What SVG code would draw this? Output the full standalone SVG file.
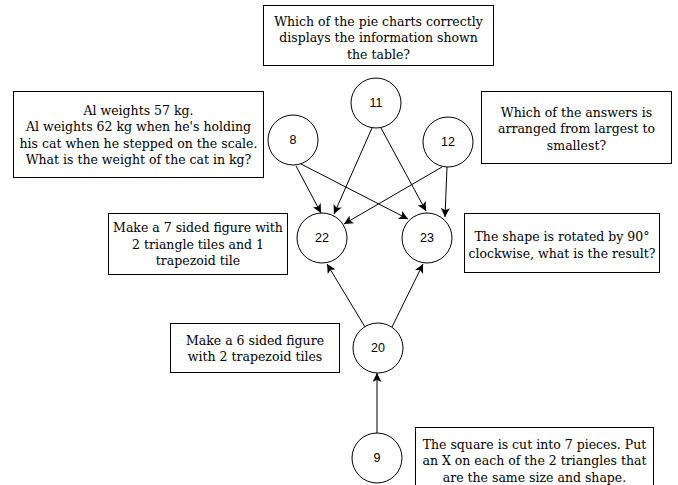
<svg xmlns="http://www.w3.org/2000/svg" width="678" height="485" viewBox="0 0 678 485">
  <style>
    .box { fill: #ffffff; stroke: #000000; stroke-width: 1; }
    .node { fill: #ffffff; stroke: #000000; stroke-width: 1; }
    .qt { font-family: "DejaVu Serif", "Liberation Serif", serif; font-size: 12.5px; fill: #000000; text-anchor: middle; }
    .num { font-family: "Liberation Sans", Arial, sans-serif; font-size: 12.5px; fill: #000000; text-anchor: middle; dominant-baseline: central; }
    .edge { fill: none; stroke: #000000; stroke-width: 1; marker-end: url(#arrow); }
  </style>
  <defs>
    <marker id="arrow" viewBox="0 0 10 10" refX="10" refY="5" markerWidth="9" markerHeight="9" markerUnits="userSpaceOnUse" orient="auto">
      <path d="M0,0 L10,5 L0,10 L2.5,5 Z" fill="#000000"/>
    </marker>
  </defs>
  <rect width="678" height="485" fill="#ffffff"/>

  <!-- question boxes -->
  <g id="q11">
    <rect class="box" x="263.5" y="5.5" width="230" height="60"/>
    <text class="qt" x="378.5" y="25.5">Which of the pie charts correctly</text>
    <text class="qt" x="378.5" y="42">displays the information shown</text>
    <text class="qt" x="378.5" y="58.5">the table?</text>
  </g>
  <g id="q8">
    <rect class="box" x="13.5" y="91.5" width="250" height="86"/>
    <text class="qt" x="138.5" y="114.5">Al weights 57 kg.</text>
    <text class="qt" x="138.5" y="131">Al weights 62 kg when he's holding</text>
    <text class="qt" x="138.5" y="147.5">his cat when he stepped on the scale.</text>
    <text class="qt" x="138.5" y="164">What is the weight of the cat in kg?</text>
  </g>
  <g id="q12">
    <rect class="box" x="481.5" y="91.5" width="190" height="72"/>
    <text class="qt" x="576.5" y="116.5">Which of the answers is</text>
    <text class="qt" x="576.5" y="133">arranged from largest to</text>
    <text class="qt" x="576.5" y="149.5">smallest?</text>
  </g>
  <g id="q22">
    <rect class="box" x="108.5" y="213.5" width="179" height="61"/>
    <text class="qt" x="198" y="232">Make a 7 sided figure with</text>
    <text class="qt" x="198" y="248.5">2 triangle tiles and 1</text>
    <text class="qt" x="198" y="265">trapezoid tile</text>
  </g>
  <g id="q23">
    <rect class="box" x="464.5" y="213.5" width="195" height="59"/>
    <text class="qt" x="562" y="241">The shape is rotated by 90°</text>
    <text class="qt" x="562" y="257.5">clockwise, what is the result?</text>
  </g>
  <g id="q20">
    <rect class="box" x="170.5" y="323.5" width="169" height="49"/>
    <text class="qt" x="255" y="344.5">Make a 6 sided figure</text>
    <text class="qt" x="255" y="361">with 2 trapezoid tiles</text>
  </g>
  <g id="q9">
    <rect class="box" x="415.5" y="427.5" width="238" height="62"/>
    <text class="qt" x="534.5" y="448.5">The square is cut into 7 pieces. Put</text>
    <text class="qt" x="534.5" y="465">an X on each of the 2 triangles that</text>
    <text class="qt" x="534.5" y="481.5">are the same size and shape.</text>
  </g>

  <!-- dependency arrows -->
  <g id="connectors">
    <line class="edge" x1="296" y1="166" x2="321" y2="213"/>
    <line class="edge" x1="301" y1="164" x2="408" y2="219"/>
    <line class="edge" x1="372" y1="128" x2="334" y2="214"/>
    <line class="edge" x1="381" y1="128" x2="426" y2="211"/>
    <line class="edge" x1="442" y1="167" x2="344" y2="224"/>
    <line class="edge" x1="447" y1="167" x2="445" y2="217"/>
    <line class="edge" x1="365" y1="327" x2="327" y2="264"/>
    <line class="edge" x1="392" y1="327" x2="423" y2="264"/>
    <line class="edge" x1="377" y1="433" x2="377" y2="373"/>
  </g>

  <!-- topic nodes -->
  <g id="n11"><circle class="node" cx="376" cy="103" r="25"/><text class="num" x="376" y="103">11</text></g>
  <g id="n8"><circle class="node" cx="293" cy="140" r="25"/><text class="num" x="293" y="140">8</text></g>
  <g id="n12"><circle class="node" cx="448" cy="142" r="25"/><text class="num" x="448" y="142">12</text></g>
  <g id="n22"><circle class="node" cx="322" cy="238" r="25"/><text class="num" x="322" y="238">22</text></g>
  <g id="n23"><circle class="node" cx="427" cy="238" r="25"/><text class="num" x="427" y="238">23</text></g>
  <g id="n20"><circle class="node" cx="378" cy="348" r="25"/><text class="num" x="378" y="348">20</text></g>
  <g id="n9"><circle class="node" cx="377" cy="458" r="25"/><text class="num" x="377" y="458">9</text></g>
</svg>
